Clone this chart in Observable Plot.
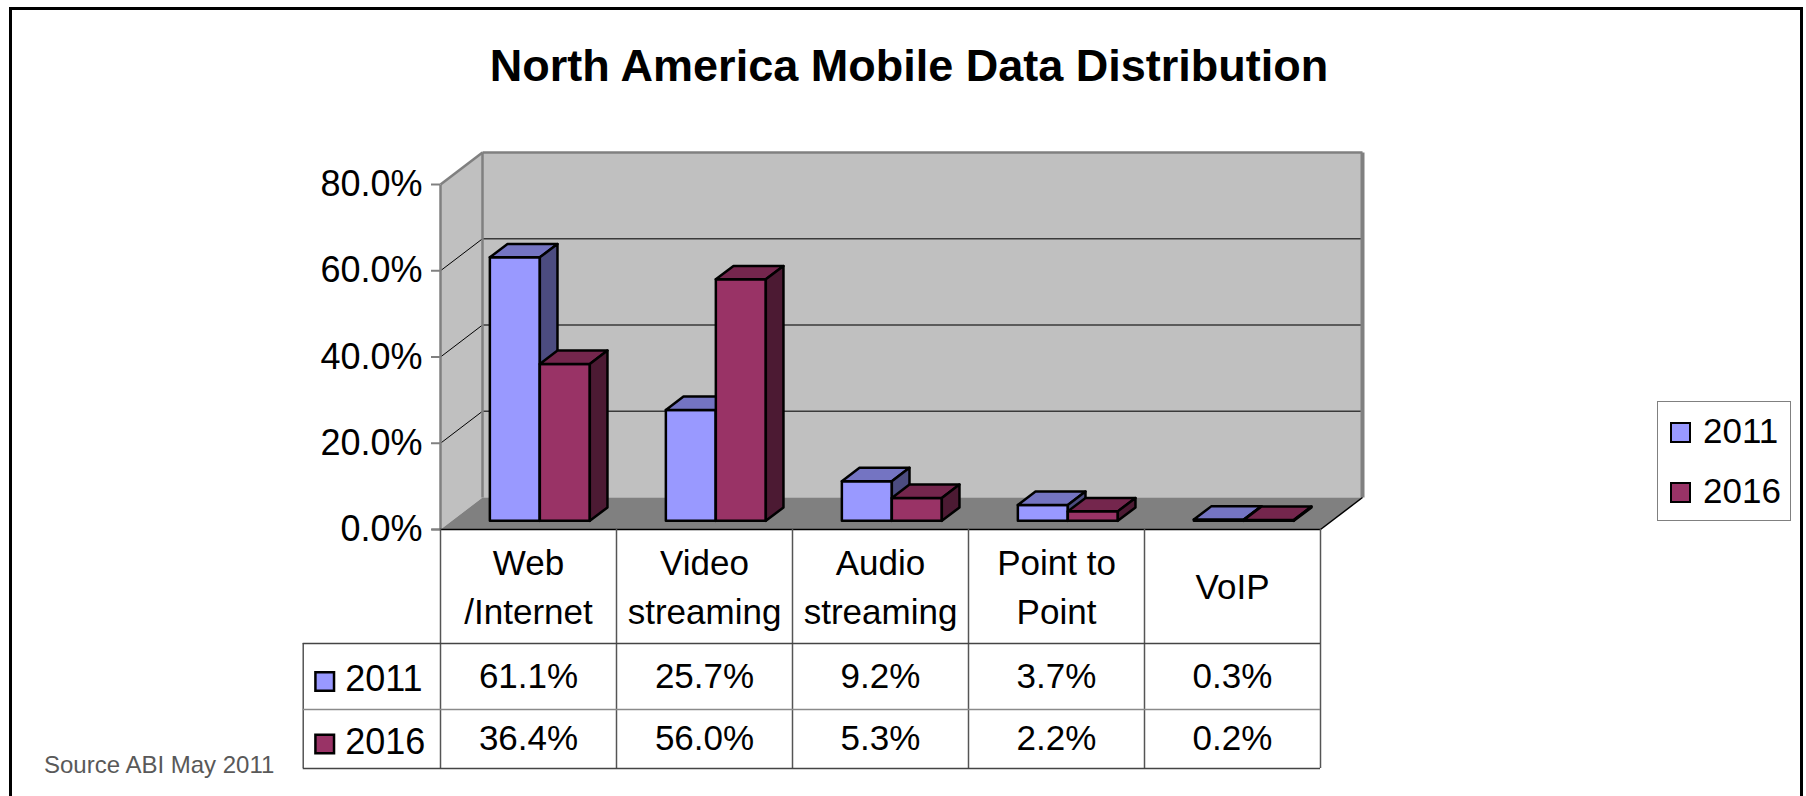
<!DOCTYPE html>
<html>
<head>
<meta charset="utf-8">
<script src="https://cdn.jsdelivr.net/npm/d3@7"></script>
<script src="https://cdn.jsdelivr.net/npm/@observablehq/plot@0.6"></script>
<style>
  html, body { margin: 0; padding: 0; background: #fff; }
  #root { position: relative; width: 1806px; height: 796px; overflow: hidden;
          font-family: "Liberation Sans", Arial, sans-serif; color: #000; }
  #frame { position: absolute; left: 9px; top: 7px; width: 1794px; height: 900px;
           border: 3px solid #000; box-sizing: border-box; }
  #title { position: absolute; left: 0; width: 1818px; top: 43px; text-align: center;
           font-weight: bold; font-size: 45px; line-height: 45px; white-space: nowrap; }
  #legend { position: absolute; left: 1657px; top: 401px; width: 134px; height: 120px;
            border: 1.5px solid #808080; box-sizing: border-box; }
  .lg-item { position: absolute; left: 12px; height: 35px; }
  .lg-key { position: absolute; left: 0; width: 21px; height: 21px; border: 2.5px solid #000;
            box-sizing: border-box; }
  .lg-label { position: absolute; left: 33px; top: 0; font-size: 35px; line-height: 35px; }
  #source { position: absolute; left: 44px; top: 753px; font-size: 24px; line-height: 24px;
            color: #595959; white-space: nowrap; }
</style>
</head>
<body>
<div id="root">
  <div id="frame"></div>
  <div id="title"></div>
  <div id="legend"></div>
  <div id="source"></div>
</div>
<script>
// ---------------- data ----------------
const chartTitle = "North America Mobile Data Distribution";
const sourceNote = "Source ABI May 2011";
const categories = ["Web\n/Internet", "Video\nstreaming", "Audio\nstreaming", "Point to\nPoint", "VoIP"];
const seriesNames = ["2011", "2016"];
const values2011 = [61.1, 25.7, 9.2, 3.7, 0.3];
const values2016 = [36.4, 56.0, 5.3, 2.2, 0.2];
const yTicks = [0, 20, 40, 60, 80];

// ---------------- styles ----------------
const frontColors = ["#9999FF", "#993366"];
const topColors   = ["#7474C2", "#74264D"];
const sideColors  = ["#4C4C80", "#4C1A33"];
const FONT = "Liberation Sans, Arial, sans-serif";

// ---------------- layout ----------------
const W = 1806, H = 540;
const M = {left: 440, right: 486, top: 184, bottom: 11};
const nCat = categories.length;
const yMax = yTicks[yTicks.length - 1];
const kx = (W - M.left - M.right) / nCat;   // px per category unit
const ky = (H - M.top - M.bottom) / yMax;   // px per percent
const DEPTH = {dx: 42, dy: -32};            // oblique floor depth in px
const barW = 0.284;                         // bar width, category units
const bd0 = 0.27, bd1 = 0.69;               // bar front/back depth (fraction of floor)

// oblique projection into data units
function P(xu, v, d) { return [xu + d * DEPTH.dx / kx, v - d * DEPTH.dy / ky]; }
function poly(id, pts, fill) { return [...pts, pts[0]].map(([x, y]) => ({id, x, y, fill})); }
function seg(a, b) { return {x1: a[0], y1: a[1], x2: b[0], y2: b[1]}; }

const series = [values2011, values2016];

// walls & floor
const walls = [
  ...poly("left",  [P(0, 0, 0), P(0, yMax, 0), P(0, yMax, 1), P(0, 0, 1)], "#C0C0C0"),
  ...poly("back",  [P(0, 0, 1), P(nCat, 0, 1), P(nCat, yMax, 1), P(0, yMax, 1)], "#C0C0C0"),
  ...poly("floor", [P(0, 0, 0), P(nCat, 0, 0), P(nCat, 0, 1), P(0, 0, 1)], "#808080")
];
const gridVals = yTicks.filter(v => v > 0 && v < yMax);
const gridBack = gridVals.map(v => seg(P(0, v, 1), P(nCat, v, 1)));
const gridSide = gridVals.map(v => seg(P(0, v, 0), P(0, v, 1)));
const wallEdges = [
  seg(P(0, yMax, 1), P(nCat, yMax, 1)),
  seg(P(0, 0, 1), P(0, yMax, 1)),
  seg(P(0, yMax, 0), P(0, yMax, 1)),
  seg(P(0, 0, 0), P(0, yMax, 0))
];
const rightEdge = [seg(P(nCat, 0, 1), P(nCat, yMax, 1))];
const floorEdges = [
  seg(P(-9 / kx, 0, 0), P(nCat, 0, 0)),
  seg(P(nCat, 0, 0), P(nCat, 0, 1))
];

// 3D bars
const bars = [];
categories.forEach((c, i) => {
  series.forEach((vals, s) => {
    const v = vals[i];
    const x0 = i + 0.5 + (s - 1) * barW, x1 = x0 + barW;
    bars.push(...poly(`f${i}-${s}`, [P(x0, 0, bd0), P(x1, 0, bd0), P(x1, v, bd0), P(x0, v, bd0)], frontColors[s]));
    bars.push(...poly(`t${i}-${s}`, [P(x0, v, bd0), P(x1, v, bd0), P(x1, v, bd1), P(x0, v, bd1)], topColors[s]));
    bars.push(...poly(`s${i}-${s}`, [P(x1, 0, bd0), P(x1, 0, bd1), P(x1, v, bd1), P(x1, v, bd0)], sideColors[s]));
  });
});

const pct = d => d.toFixed(1) + "%";
const hasAxis = typeof Plot.axisY === "function";

const chart = Plot.plot({
  width: W, height: H,
  marginLeft: M.left, marginRight: M.right, marginTop: M.top, marginBottom: M.bottom,
  x: {domain: [0, nCat], axis: null},
  y: hasAxis ? {domain: [0, yMax], axis: null}
             : {domain: [0, yMax], ticks: yTicks, tickFormat: pct, tickSize: 9, tickPadding: 9, label: null},
  style: {fontFamily: FONT, fontSize: "36px", background: "transparent", overflow: "visible", color: "#000"},
  marks: [
    Plot.line(walls, {x: "x", y: "y", z: "id", fill: "fill", stroke: "none"}),
    Plot.link(gridBack, {x1: "x1", y1: "y1", x2: "x2", y2: "y2", stroke: "#3a3a3a", strokeWidth: 1.5}),
    Plot.link(gridSide, {x1: "x1", y1: "y1", x2: "x2", y2: "y2", stroke: "#000", strokeWidth: 1}),
    Plot.link(wallEdges, {x1: "x1", y1: "y1", x2: "x2", y2: "y2", stroke: "#808080", strokeWidth: 2.5}),
    Plot.link(rightEdge, {x1: "x1", y1: "y1", x2: "x2", y2: "y2", stroke: "#808080", strokeWidth: 4}),
    Plot.link(floorEdges, {x1: "x1", y1: "y1", x2: "x2", y2: "y2", stroke: "#000", strokeWidth: 1.5}),
    Plot.line(bars, {x: "x", y: "y", z: "id", fill: "fill", stroke: "#000", strokeWidth: 2.5, strokeLinejoin: "round"}),
    ...(hasAxis ? [Plot.axisY(yTicks, {tickFormat: pct, tickSize: 9, tickPadding: 9, stroke: "#808080",
                    strokeWidth: 2, fill: "#000", fontSize: 36, label: null})] : [])
  ]
});
chart.style.position = "absolute";
chart.style.left = "0px";
chart.style.top = "0px";

// ---------------- data table below the chart ----------------
const TH = 267;                 // table svg height
const headerH = 114, rowH = [66, 59];
const tableBottom = headerH + rowH[0] + rowH[1];
const legCol = -0.78;           // left edge of legend column, category units
const rowTop = [headerH, headerH + rowH[0]];
const rowMid = rowTop.map((t, k) => t + rowH[k] / 2);

const cells = [];
series.forEach((vals, s) => vals.forEach((v, i) => cells.push({i, s, v})));

const table = Plot.plot({
  width: W, height: TH,
  marginLeft: M.left, marginRight: M.right, marginTop: 0, marginBottom: 0,
  x: {domain: [0, nCat], axis: null},
  y: {type: "identity", axis: null},
  style: {fontFamily: FONT, fontSize: "35px", background: "transparent", overflow: "visible", color: "#000"},
  marks: [
    Plot.ruleX(d3.range(nCat + 1), {x: d => d, y1: 0, y2: tableBottom, stroke: "#555", strokeWidth: 1.5}),
    Plot.ruleX([legCol], {x: d => d, y1: headerH, y2: tableBottom, stroke: "#555", strokeWidth: 1.5}),
    Plot.ruleY([headerH, tableBottom], {y: d => d, x1: legCol, x2: nCat, stroke: "#444", strokeWidth: 1.5}),
    Plot.ruleY([rowTop[1]], {y: d => d, x1: legCol, x2: nCat, stroke: "#8a8a8a", strokeWidth: 1.5}),
    Plot.text(categories, {x: (d, i) => i + 0.5, y: headerH / 2 - 3, text: d => d,
                           lineAnchor: "middle", lineHeight: 1.4, fontSize: 35}),
    Plot.text(cells, {x: d => d.i + 0.5, y: d => rowMid[d.s], text: d => pct(d.v), fontSize: 35}),
    Plot.dot(seriesNames, {x: legCol, y: (d, s) => rowMid[s], dx: 21.5, dy: 5, symbol: "square", r: 10.5,
                           fill: (d, s) => frontColors[s], stroke: "#000", strokeWidth: 2.5}),
    Plot.text(seriesNames, {x: legCol, y: (d, s) => rowMid[s], dx: 42, dy: 3, text: d => d,
                            textAnchor: "start", fontSize: 36})
  ]
});
table.style.position = "absolute";
table.style.left = "0px";
table.style.top = (M.top + (H - M.top - M.bottom)) + "px";

const root = document.getElementById("root");
root.insertBefore(chart, document.getElementById("legend"));
root.insertBefore(table, document.getElementById("legend"));

document.getElementById("title").textContent = chartTitle;
document.getElementById("source").textContent = sourceNote;

// right-hand legend
const legend = d3.select("#legend");
seriesNames.forEach((name, s) => {
  const item = legend.append("div").attr("class", "lg-item").style("top", (11 + s * 60) + "px");
  item.append("div").attr("class", "lg-key").style("top", "9px").style("background", frontColors[s]);
  item.append("div").attr("class", "lg-label").text(name);
});
</script>
</body>
</html>
